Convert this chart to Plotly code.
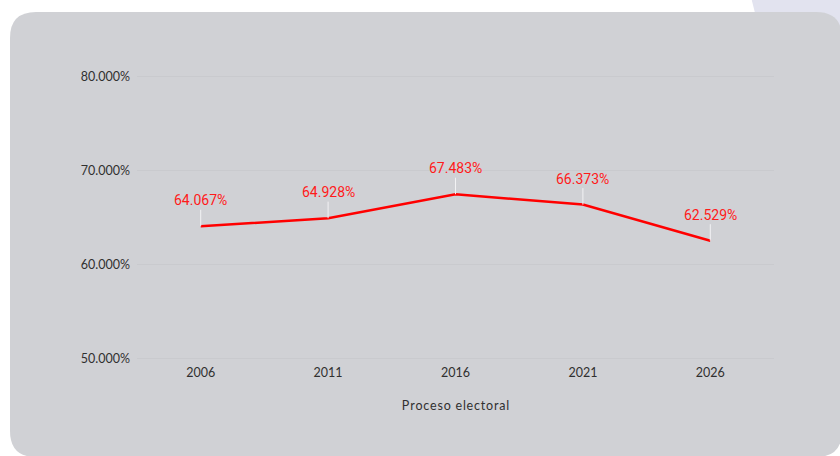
import plotly.graph_objects as go

# Datos
procesos = ["2006", "2011", "2016", "2021", "2026"]
participacion = [64.067, 64.928, 67.483, 66.373, 62.529]
y_ticks = [50, 60, 70, 80]
y_tick_text = ["50.000%", "60.000%", "70.000%", "80.000%"]

W, H = 840, 456
L, R, T, B = 137, 66, 72, 93
PW, PH = W - L - R, H - T - B


def px(x):
    return (x - L) / PW


def py(y):
    return (H - B - y) / PH


def rounded_rect(x0, y0, x1, y1, r):
    # x/y en pixeles de la pagina, salida en coordenadas paper
    return (
        f"M {px(x0 + r)} {py(y0)} L {px(x1 - r)} {py(y0)} "
        f"Q {px(x1)} {py(y0)} {px(x1)} {py(y0 + r)} "
        f"L {px(x1)} {py(y1 - r)} Q {px(x1)} {py(y1)} {px(x1 - r)} {py(y1)} "
        f"L {px(x0 + r)} {py(y1)} Q {px(x0)} {py(y1)} {px(x0)} {py(y1 - r)} "
        f"L {px(x0)} {py(y0 + r)} Q {px(x0)} {py(y0)} {px(x0 + r)} {py(y0)} Z"
    )


fig = go.Figure()

fig.add_trace(go.Scatter(
    x=procesos, y=participacion, mode="lines",
    line=dict(color="#ff0000", width=2.5),
    hoverinfo="skip", showlegend=False,
))

for i, v in enumerate(participacion):
    fig.add_annotation(
        x=i, y=v, text=f"{v:.3f}%", showarrow=True, arrowhead=0,
        arrowwidth=1, arrowcolor="#f2f2f4", ax=0, ay=-26,
        font=dict(family="Roboto", size=14, color="#ff1a1a"),
    )

# fondo
fig.add_shape(type="circle", xref="paper", yref="paper", layer="below",
              x0=px(750), x1=px(970), y0=py(90), y1=py(-130),
              fillcolor="#e2e3ef", line=dict(width=0))
fig.add_shape(type="path", xref="paper", yref="paper", layer="below",
              path=rounded_rect(10, 12, 842, 457, 26),
              fillcolor="#d0d1d5", line=dict(width=0))

titulo = "\u200a".join("Proceso electoral")

fig.update_layout(
    width=W, height=H,
    margin=dict(l=L, r=R, t=T, b=B),
    paper_bgcolor="white", plot_bgcolor="rgba(0,0,0,0)",
    font=dict(family="Lato", size=12, color="#303030"),
)
fig.update_xaxes(
    type="category", range=[-0.5, 4.5], showgrid=False, zeroline=False,
    showline=False, ticks="", tickfont=dict(size=12.5, color="#303030"),
    title=dict(text=titulo, standoff=22, font=dict(size=12.5, color="#303030")),
)
fig.update_yaxes(
    range=[49.5, 80.5], tickvals=y_ticks, ticktext=y_tick_text,
    showgrid=True, gridcolor="#c9cace", gridwidth=1, zeroline=False,
    showline=False, ticks="", ticklabelstandoff=6,
    tickfont=dict(size=12.5, color="#303030"),
)

fig.write_html("out.html", config={"displayModeBar": False},
               post_script="document.body.style.margin='0';")
